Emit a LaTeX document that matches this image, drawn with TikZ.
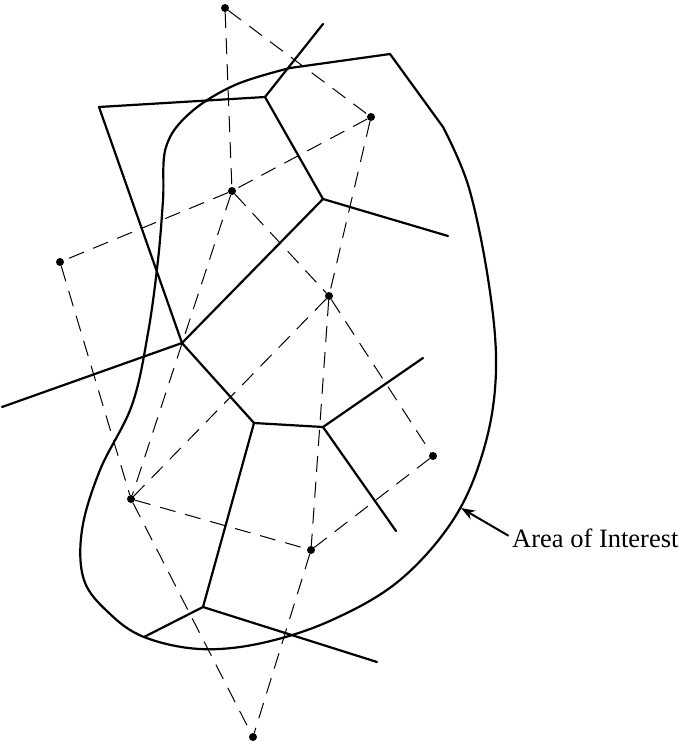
\documentclass[tikz,border=0pt]{standalone}
\usepackage{fontspec}
\setmainfont{Liberation Serif}
\usetikzlibrary{arrows.meta}

\begin{document}
\begin{tikzpicture}[
  x=1pt, y=-1pt,
  dot/.style={circle,fill,inner sep=0pt,minimum size=8pt},
  cell/.style={line width=2.2pt,line cap=round},
  link/.style={line width=1pt,dash pattern=on 16pt off 10pt},
  rim/.style={line width=2.2pt,line join=round}
]
  \useasboundingbox (0,0) rectangle (685,744);

  % sites
  \node[dot] (p1) at (225,8) {};
  \node[dot] (p2) at (371,117) {};
  \node[dot] (p3) at (232,191) {};
  \node[dot] (p4) at (60,262) {};
  \node[dot] (p5) at (329,296) {};
  \node[dot] (p6) at (433,456) {};
  \node[dot] (p7) at (131,499) {};
  \node[dot] (p8) at (311,550) {};
  \node[dot] (p9) at (253,737) {};

  % triangulation
  \foreach \a/\b in {p1/p2,p1/p3,p2/p3,p3/p4,p2/p5,p3/p5,p3/p7,p4/p7,
                     p5/p6,p5/p7,p5/p8,p6/p8,p7/p8,p7/p9,p8/p9}
    \draw[link] (\a) -- (\b);

  % cell corners and open ends
  \coordinate (v1) at (265,97);
  \coordinate (v2) at (323,199);
  \coordinate (v3) at (182,343);
  \coordinate (v4) at (254,423);
  \coordinate (v5) at (323,427);
  \coordinate (v6) at (203,607);
  \coordinate (e1) at (323,24);
  \coordinate (e2) at (99,107);
  \coordinate (e3) at (448,236);
  \coordinate (e4) at (2,407);
  \coordinate (e5) at (423,358);
  \coordinate (e6) at (396,531);
  \coordinate (e7) at (144,637);
  \coordinate (e8) at (377,662);

  \foreach \a/\b in {v1/e1,v1/e2,e2/v3,v1/v2,v2/e3,v2/v3,v3/e4,v3/v4,
                     v4/v5,v5/e5,v5/e6,v4/v6,v6/e7,v6/e8}
    \draw[cell] (\a) -- (\b);

  % area boundary
  \draw[rim] (390,54) -- plot[smooth,tension=0.6] coordinates {
      (290,68) (235,85) (190,113) (166,147) (163,200) (158,260) (148,333)
      (132,405) (100,470) (82,530) (84,580) (109,613) (144,637) (200,649)
      (262,643) (332,620) (400,580) (455,517) (485,445) (496,370) (489,285)
      (469,188) (443,127)} -- cycle;

  \node[anchor=base west,inner sep=0pt,font=\fontsize{26.5}{30}\selectfont] (lbl) at (512,547) {Area of Interest};
  \coordinate (tip) at (461,508);
  \draw[-{Stealth[length=14pt,width=10pt]},line width=2pt,shorten <=4pt] (lbl.west) -- (tip);
\end{tikzpicture}
\end{document}
